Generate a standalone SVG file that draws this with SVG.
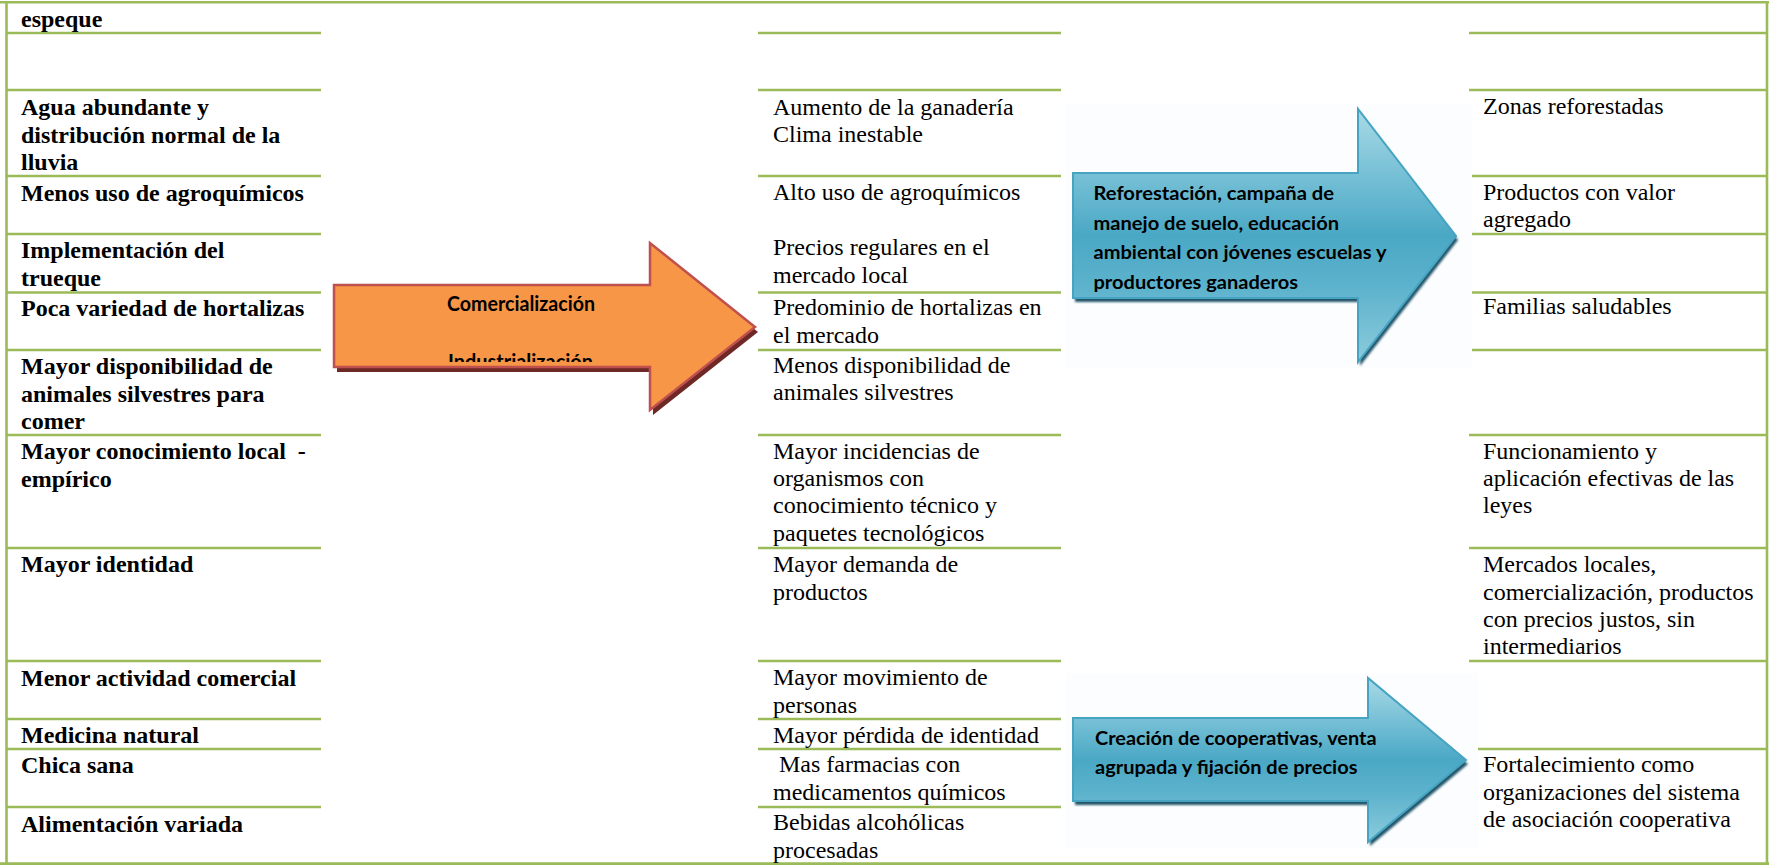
<svg xmlns="http://www.w3.org/2000/svg" width="1769" height="865" viewBox="0 0 1769 865">
<style>
.ln{stroke:#9bbb59;stroke-width:2.6;fill:none}
.b{font-family:"Liberation Serif","Times New Roman",serif;font-size:24px;font-weight:bold;fill:#000}
.r{font-family:"Liberation Serif","Times New Roman",serif;font-size:24px;fill:#000}
.cal{font-family:Lato,"Liberation Sans",sans-serif;font-weight:bold;fill:#000}
</style>
<defs>
<linearGradient id="blueGrad" x1="0" y1="0" x2="0" y2="1">
<stop offset="0" stop-color="#a9dae6"/>
<stop offset="0.3" stop-color="#6fbcd3"/>
<stop offset="0.5" stop-color="#4aa8c5"/>
<stop offset="0.7" stop-color="#5cb2cc"/>
<stop offset="1" stop-color="#8ccbdc"/>
</linearGradient>
<filter id="soft" x="-5%" y="-5%" width="110%" height="110%">
<feGaussianBlur stdDeviation="1"/>
</filter>
<clipPath id="orangeClip">
<rect x="334" y="285" width="420" height="77"/>
</clipPath>
</defs>
<rect width="1769" height="865" fill="#ffffff"/>

<g id="table-lines">
<line class="ln" x1="0" y1="2.2" x2="1769" y2="2.2"/>
<line class="ln" x1="0" y1="863.6" x2="1769" y2="863.6"/>
<line class="ln" x1="6.5" y1="1" x2="6.5" y2="865"/>
<line class="ln" x1="1767" y1="1" x2="1767" y2="865"/>
<path class="ln" d="M6 33H321M6 90H321M6 176H321M6 234H321M6 292.5H321M6 350H321M6 435H321M6 548H321M6 661H321M6 719H321M6 749H321M6 807H321"/>
<path class="ln" d="M758 33H1061M758 90H1061M758 176H1061M758 292.5H1061M758 350H1061M758 435H1061M758 548H1061M758 661H1061M758 719H1061M758 749H1061M758 807H1061"/>
<path class="ln" d="M1469 33H1767M1469 90H1767M1469 176H1767M1469 234H1767M1469 292.5H1767M1469 350H1767M1469 435H1767M1469 548H1767M1469 661H1767M1469 749H1767"/>
</g>

<g id="col-left">
<text class="b" x="21" y="27">espeque</text>
<text class="b" x="21" y="115">Agua abundante y</text>
<text class="b" x="21" y="143">distribución normal de la</text>
<text class="b" x="21" y="170">lluvia</text>
<text class="b" x="21" y="201">Menos uso de agroquímicos</text>
<text class="b" x="21" y="258">Implementación del</text>
<text class="b" x="21" y="286">trueque</text>
<text class="b" x="21" y="316">Poca variedad de hortalizas</text>
<text class="b" x="21" y="374">Mayor disponibilidad de</text>
<text class="b" x="21" y="402">animales silvestres para</text>
<text class="b" x="21" y="429">comer</text>
<text class="b" x="21" y="459" xml:space="preserve">Mayor conocimiento local  -</text>
<text class="b" x="21" y="487">empírico</text>
<text class="b" x="21" y="572">Mayor identidad</text>
<text class="b" x="21" y="686">Menor actividad comercial</text>
<text class="b" x="21" y="743">Medicina natural</text>
<text class="b" x="21" y="773">Chica sana</text>
<text class="b" x="21" y="832">Alimentación variada</text>
</g>

<g id="col-mid">
<text class="r" x="773" y="114.5">Aumento de la ganadería</text>
<text class="r" x="773" y="142">Clima inestable</text>
<text class="r" x="773" y="200">Alto uso de agroquímicos</text>
<text class="r" x="773" y="255">Precios regulares en el</text>
<text class="r" x="773" y="283">mercado local</text>
<text class="r" x="773" y="315">Predominio de hortalizas en</text>
<text class="r" x="773" y="343">el mercado</text>
<text class="r" x="773" y="373">Menos disponibilidad de</text>
<text class="r" x="773" y="400">animales silvestres</text>
<text class="r" x="773" y="459">Mayor incidencias de</text>
<text class="r" x="773" y="486">organismos con</text>
<text class="r" x="773" y="513">conocimiento técnico y</text>
<text class="r" x="773" y="541">paquetes tecnológicos</text>
<text class="r" x="773" y="572">Mayor demanda de</text>
<text class="r" x="773" y="600">productos</text>
<text class="r" x="773" y="685">Mayor movimiento de</text>
<text class="r" x="773" y="713">personas</text>
<text class="r" x="773" y="743">Mayor pérdida de identidad</text>
<text class="r" x="779" y="772">Mas farmacias con</text>
<text class="r" x="773" y="800">medicamentos químicos</text>
<text class="r" x="773" y="830">Bebidas alcohólicas</text>
<text class="r" x="773" y="858">procesadas</text>
</g>

<g id="col-right">
<text class="r" x="1483" y="114">Zonas reforestadas</text>
<text class="r" x="1483" y="200">Productos con valor</text>
<text class="r" x="1483" y="227">agregado</text>
<text class="r" x="1483" y="314">Familias saludables</text>
<text class="r" x="1483" y="459">Funcionamiento y</text>
<text class="r" x="1483" y="486">aplicación efectivas de las</text>
<text class="r" x="1483" y="513">leyes</text>
<text class="r" x="1483" y="572">Mercados locales,</text>
<text class="r" x="1483" y="600">comercialización, productos</text>
<text class="r" x="1483" y="627">con precios justos, sin</text>
<text class="r" x="1483" y="654">intermediarios</text>
<text class="r" x="1483" y="772">Fortalecimiento como</text>
<text class="r" x="1483" y="800">organizaciones del sistema</text>
<text class="r" x="1483" y="827">de asociación cooperativa</text>
</g>

<g id="connectors">
<g id="arrow-orange">
<polygon points="334,285 650,285 650,243 755,327 650,410 650,367 334,367" fill="#6e2826" transform="translate(3,5)"/>
<polygon points="334,285 650,285 650,243 755,327 650,410 650,367 334,367" fill="#f79646" stroke="#c0504d" stroke-width="2.5" stroke-linejoin="miter"/>
<text class="cal" x="447" y="311" font-size="20" textLength="148" lengthAdjust="spacingAndGlyphs">Comercialización</text>
<text class="cal" x="448" y="369" font-size="20" textLength="145" lengthAdjust="spacingAndGlyphs" clip-path="url(#orangeClip)">Industrialización</text>
</g>

<g id="arrow-blue-1">
<rect x="1066" y="104" width="406" height="264" fill="#fbfdfe"/>
<polygon points="1073,173 1358,173 1358,109 1456,236 1358,362 1358,298 1073,298" fill="#24566a" transform="translate(2,4)" filter="url(#soft)"/>
<polygon points="1073,173 1358,173 1358,109 1456,236 1358,362 1358,298 1073,298" fill="url(#blueGrad)" stroke="#46a3c2" stroke-width="2"/>
<text class="cal" x="1093.5" y="200" font-size="19" textLength="240.5" lengthAdjust="spacingAndGlyphs">Reforestación, campaña de</text>
<text class="cal" x="1093.5" y="229.5" font-size="19" textLength="245.5" lengthAdjust="spacingAndGlyphs">manejo de suelo, educación</text>
<text class="cal" x="1093.5" y="259" font-size="19" textLength="293" lengthAdjust="spacingAndGlyphs">ambiental con jóvenes escuelas y</text>
<text class="cal" x="1093.5" y="288.5" font-size="19" textLength="204.5" lengthAdjust="spacingAndGlyphs">productores ganaderos</text>
</g>

<g id="arrow-blue-2">
<rect x="1066" y="673" width="412" height="175" fill="#fbfdfe"/>
<polygon points="1073,718 1368,718 1368,678 1466,760 1368,842 1368,801 1073,801" fill="#24566a" transform="translate(2,4)" filter="url(#soft)"/>
<polygon points="1073,718 1368,718 1368,678 1466,760 1368,842 1368,801 1073,801" fill="url(#blueGrad)" stroke="#46a3c2" stroke-width="2"/>
<text class="cal" x="1095" y="745" font-size="19" textLength="281.5" lengthAdjust="spacingAndGlyphs">Creación de cooperativas, venta</text>
<text class="cal" x="1095" y="774" font-size="19" textLength="262.5" lengthAdjust="spacingAndGlyphs">agrupada y fijación de precios</text>
</g>
</g>
</svg>
